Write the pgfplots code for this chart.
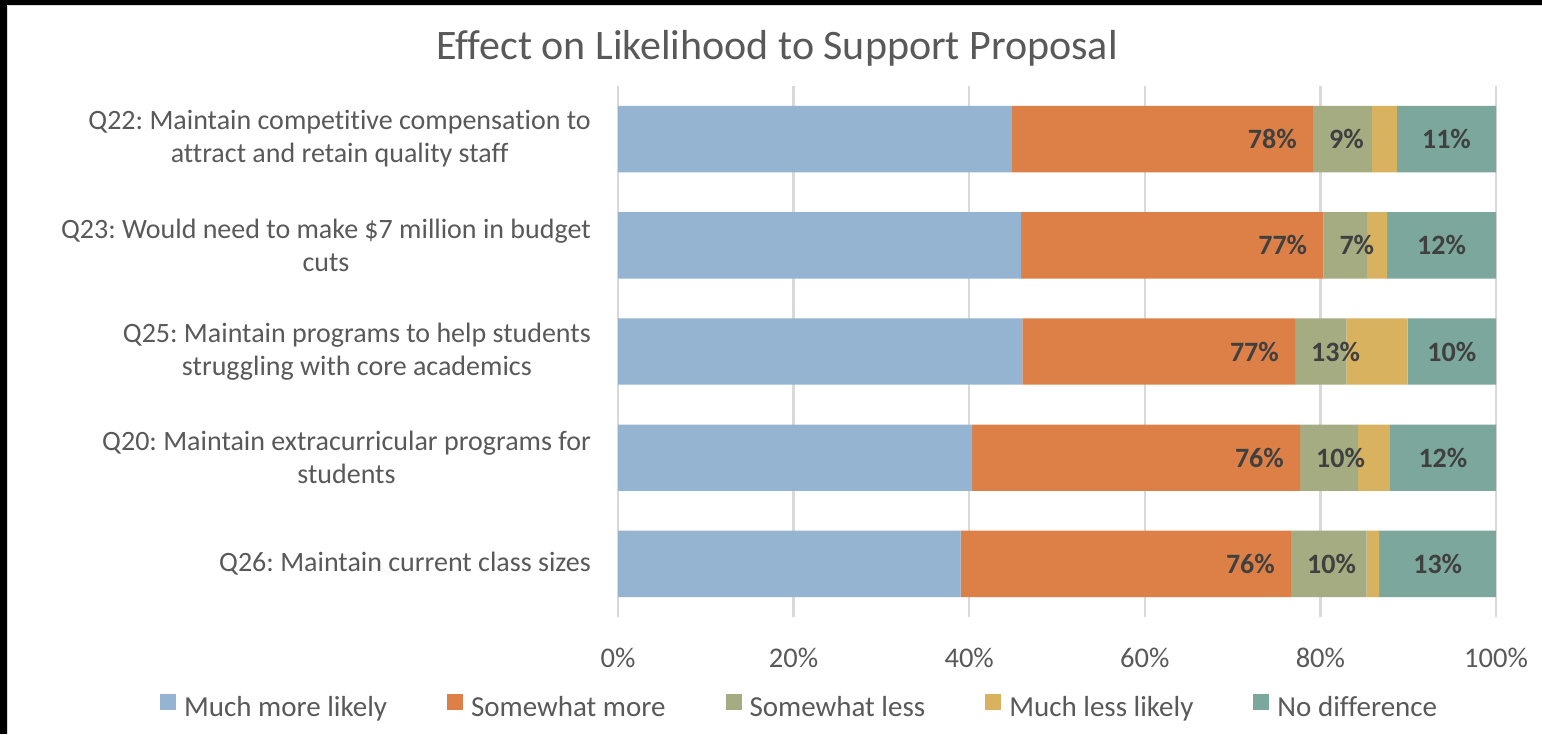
\documentclass[border=0pt]{standalone}
\usepackage{fontspec}
\setmainfont{Carlito}[Ligatures=NoCommon]
\usepackage{pgfplots}
\usepackage{pgfplotstable}
\pgfplotsset{compat=1.18}
\frenchspacing
\definecolor{cBlue}{RGB}{149,180,209}
\definecolor{cOrange}{RGB}{221,128,72}
\definecolor{cOlive}{RGB}{165,172,130}
\definecolor{cGold}{RGB}{216,178,94}
\definecolor{cTeal}{RGB}{123,167,156}
\definecolor{txt}{RGB}{89,89,89}
\definecolor{lbl}{RGB}{64,64,64}
\definecolor{gridc}{RGB}{217,217,217}
\tikzset{dl/.style={font=\fontsize{28pt}{34pt}\selectfont\bfseries, text=lbl, inner sep=0pt}}
\pgfplotstableread{
y much some sless mless nodiff
0 44.87 34.28 6.72 2.85 11.28
1 45.90 34.43 4.98 2.28 12.41
2 46.05 31.06 5.84 6.99 10.06
3 40.32 37.36 6.61 3.61 12.11
4 39.03 37.62 8.62 1.43 13.29
}\data
\begin{document}
\begin{tikzpicture}
\path[use as bounding box] (0pt,0pt) rectangle (1542pt,-734pt);
\fill[white] (0pt,0pt) rectangle (1542pt,-734pt);
\begin{axis}[
  at={(618pt,-617pt)}, anchor=south west,
  scale only axis, width=878pt, height=531pt,
  xbar stacked, bar width=66.4pt,
  xmin=0, xmax=100, ymin=-0.5, ymax=4.5,
  y dir=reverse,
  ytick={0,1,2,3,4},
  yticklabels={{Q22: Maintain competitive compensation to\\attract and retain quality staff},
    {Q23: Would need to make \$7 million in budget\\cuts},
    {Q25: Maintain programs to help students\\struggling with core academics},
    {Q20: Maintain extracurricular programs for\\students},
    {Q26: Maintain current class sizes}},
  yticklabel style={align=center, anchor=east, inner sep=0pt, xshift=-27pt,
    font=\fontsize{28pt}{33pt}\selectfont, text=txt},
  xtick={0,20,40,60,80,100},
  xticklabels={0\%,20\%,40\%,60\%,80\%,100\%},
  xticklabel style={anchor=north, inner sep=0pt, yshift=-31pt,
    font=\fontsize{28.5pt}{34pt}\selectfont, text=txt},
  xmajorgrids, grid style={gridc, line width=2.5pt},
  axis line style={draw=none}, tick style={draw=none},
  major tick length=0pt,
  title={Effect on Likelihood to Support Proposal},
  title style={at={(0.1811,1.0377)}, anchor=base, inner sep=0pt,
    font=\fontsize{42pt}{48pt}\selectfont, text=txt},
  legend columns=5,
  legend style={at={(-0.5216,-0.1695)}, anchor=west, draw=none, fill=none,
    inner sep=0pt, outer sep=0pt,
    font=\fontsize{29pt}{34pt}\selectfont, text=txt,
    /tikz/every odd column/.append style={column sep=6pt},
    /tikz/every even column/.append style={column sep=58pt}},
  legend image code/.code={\fill[#1] (0pt,-2pt) rectangle (16pt,14pt);},
]
\addplot[fill=cBlue, draw=none] table[x=much, y=y] {\data};
\addplot[fill=cOrange, draw=none] table[x=some, y=y] {\data};
\addplot[fill=cOlive, draw=none] table[x=sless, y=y] {\data};
\addplot[fill=cGold, draw=none] table[x=mless, y=y] {\data};
\addplot[fill=cTeal, draw=none] table[x=nodiff, y=y] {\data};
\legend{Much more likely, Somewhat more, Somewhat less, Much less likely, No difference}
\coordinate (o0) at (axis cs:79.15,0);
\coordinate (o1) at (axis cs:80.33,1);
\coordinate (o2) at (axis cs:77.11,2);
\coordinate (o3) at (axis cs:77.68,3);
\coordinate (o4) at (axis cs:76.65,4);
\coordinate (t0) at (axis cs:94.36,0);
\coordinate (t1) at (axis cs:93.80,1);
\coordinate (t2) at (axis cs:94.97,2);
\coordinate (t3) at (axis cs:93.95,3);
\coordinate (t4) at (axis cs:93.36,4);
\end{axis}
\node[dl, anchor=east, xshift=-16pt] at (o0) {78\%};
\node[dl, anchor=east, xshift=-16pt] at (o1) {77\%};
\node[dl, anchor=east, xshift=-16pt] at (o2) {77\%};
\node[dl, anchor=east, xshift=-16pt] at (o3) {76\%};
\node[dl, anchor=east, xshift=-16pt] at (o4) {76\%};
\node[dl, anchor=west, xshift=16pt] at (o0) {9\%};
\node[dl, anchor=west, xshift=16pt] at (o1) {7\%};
\node[dl, anchor=west, xshift=16pt] at (o2) {13\%};
\node[dl, anchor=west, xshift=16pt] at (o3) {10\%};
\node[dl, anchor=west, xshift=16pt] at (o4) {10\%};
\node[dl] at (t0) {11\%};
\node[dl] at (t1) {12\%};
\node[dl] at (t2) {10\%};
\node[dl] at (t3) {12\%};
\node[dl] at (t4) {13\%};
\fill[black] (0pt,0pt) rectangle (1542pt,-5pt);
\fill[black] (0pt,0pt) rectangle (7pt,-734pt);
\draw[gridc, line width=1pt] (7.5pt,-5.5pt) -- (1542pt,-5.5pt);
\draw[gridc, line width=1pt] (7.5pt,-5.5pt) -- (7.5pt,-734pt);
\end{tikzpicture}
\end{document}
